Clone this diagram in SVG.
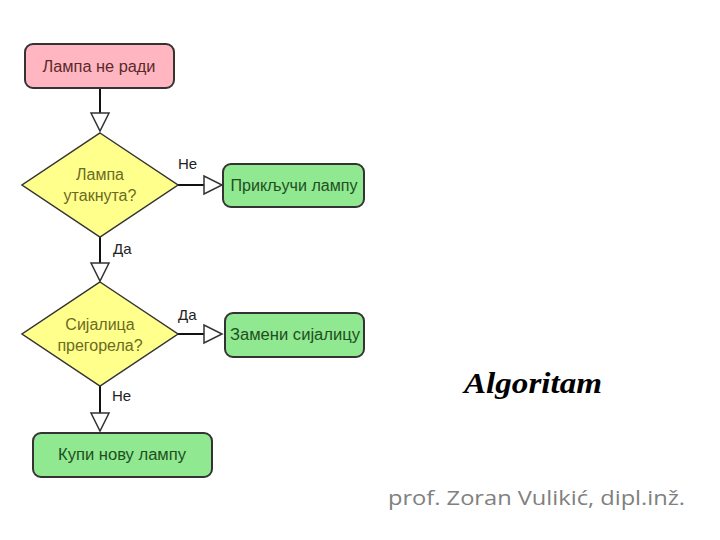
<svg xmlns="http://www.w3.org/2000/svg" width="720" height="540" viewBox="0 0 720 540">
<style>
.box{stroke:#333;stroke-width:2}
.pink{fill:#ffb6c1}
.green{fill:#90e890}
.dia{fill:#ffff8c;stroke:#333;stroke-width:1.5}
.t{font-family:"Liberation Sans",Arial,sans-serif;font-size:16px;text-anchor:middle}
.tp{fill:#5a2a2a}
.tg{fill:#1f4f1f}
.ty{fill:#6b6b22}
.lbl{font-family:"Liberation Sans",Arial,sans-serif;font-size:15px;fill:#222}
.ln{stroke:#111;stroke-width:2;fill:none}
.ah{fill:#fff;stroke:#333;stroke-width:1.5}
</style>
<rect width="720" height="540" fill="#fff"/>
<g id="connectors">
<line class="ln" x1="100" y1="88" x2="100" y2="113"/>
<polygon class="ah" points="91,113 109,113 100,131"/>
<line class="ln" x1="178" y1="185" x2="204" y2="185"/>
<polygon class="ah" points="204,176 204,194 222,185"/>
<line class="ln" x1="100" y1="237" x2="100" y2="263"/>
<polygon class="ah" points="91,263 109,263 100,281"/>
<line class="ln" x1="178" y1="334" x2="204" y2="334"/>
<polygon class="ah" points="204,325 204,343 222,334"/>
<line class="ln" x1="100" y1="386" x2="100" y2="413"/>
<polygon class="ah" points="91,413 109,413 100,431"/>
<text class="lbl" x="178" y="169">Не</text>
<text class="lbl" x="113" y="254">Да</text>
<text class="lbl" x="178" y="320">Да</text>
<text class="lbl" x="112" y="401">Не</text>
</g>
<g id="n1">
<rect class="box pink" x="25" y="44" width="149" height="44" rx="8"/>
<text class="t tp" x="99" y="72" textLength="113" lengthAdjust="spacingAndGlyphs">Лампа не ради</text>
</g>
<g id="n2">
<polygon class="dia" points="100,133 178,185 100,237 22,185"/>
<text class="t ty" x="100" y="180">Лампа</text>
<text class="t ty" x="100" y="201">утакнута?</text>
</g>
<g id="n3">
<rect class="box green" x="223" y="164" width="141" height="43" rx="8"/>
<text class="t tg" x="294" y="191" textLength="127" lengthAdjust="spacingAndGlyphs">Прикључи лампу</text>
</g>
<g id="n4">
<polygon class="dia" points="100,282 178,334 100,386 22,334"/>
<text class="t ty" x="100" y="330">Сијалица</text>
<text class="t ty" x="100" y="351">прегорела?</text>
</g>
<g id="n5">
<rect class="box green" x="225" y="313" width="139" height="44" rx="8"/>
<text class="t tg" x="295" y="340" textLength="130" lengthAdjust="spacingAndGlyphs">Замени сијалицу</text>
</g>
<g id="n6">
<rect class="box green" x="33" y="433" width="179" height="44" rx="8"/>
<text class="t tg" x="122" y="460" textLength="128" lengthAdjust="spacingAndGlyphs">Купи нову лампу</text>
</g>
<text x="533" y="393" font-family="'Liberation Serif',serif" font-weight="bold" font-style="italic" font-size="30" text-anchor="middle" textLength="138" lengthAdjust="spacingAndGlyphs" fill="#000">Algoritam</text>
<text x="388" y="505" font-family="'Open Sans','DejaVu Sans',sans-serif" font-size="20" textLength="297" lengthAdjust="spacingAndGlyphs" fill="#808080">prof. Zoran Vulikić, dipl.inž.</text>
</svg>
